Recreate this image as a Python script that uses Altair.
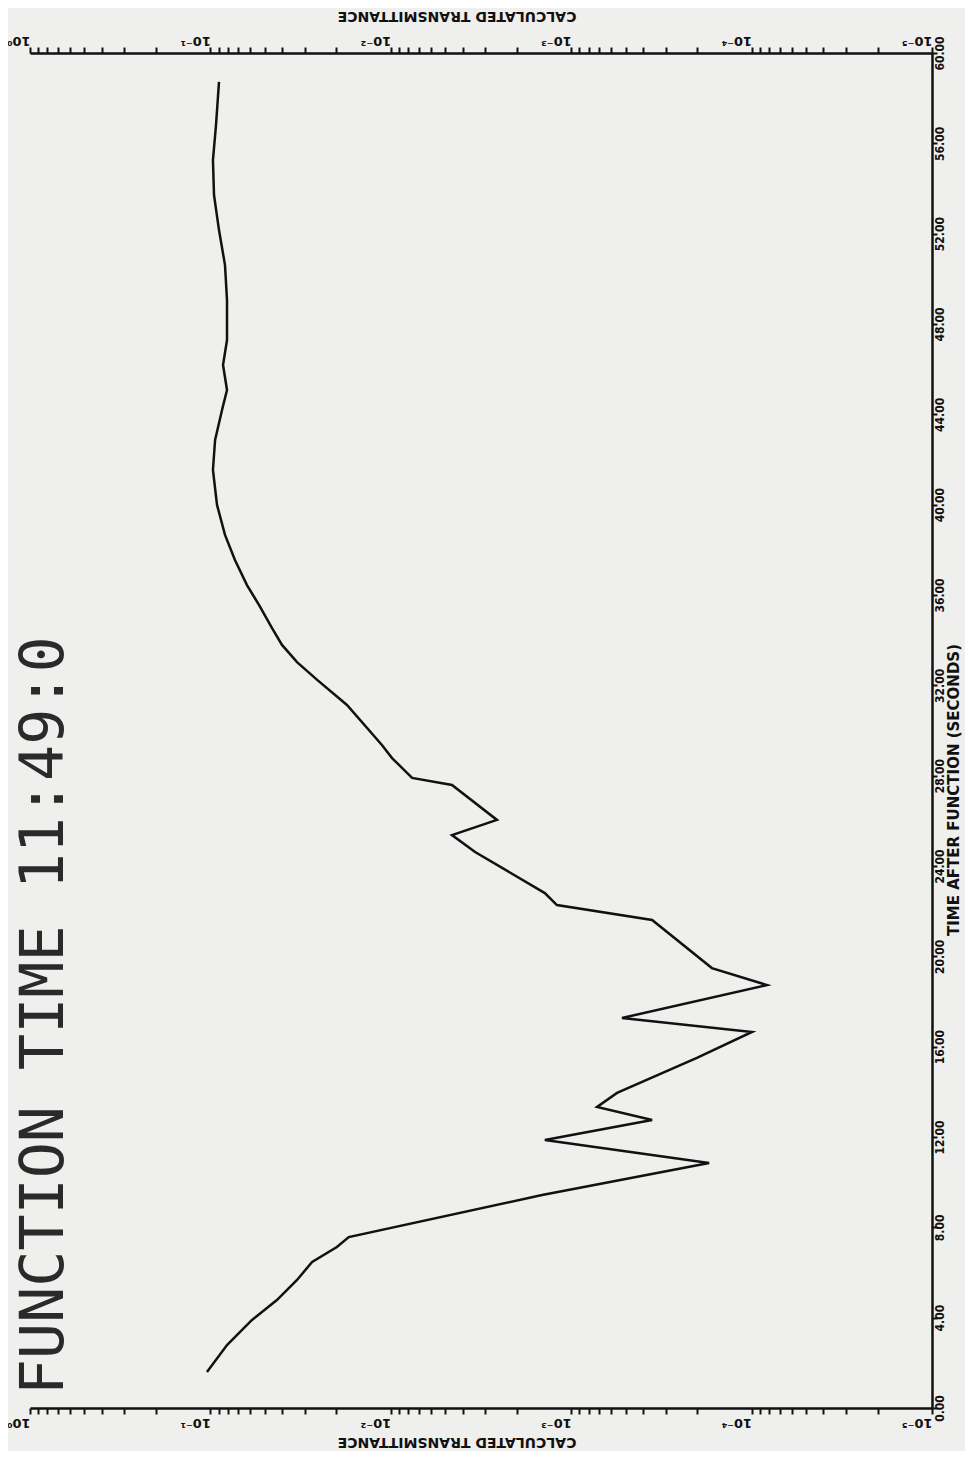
import altair as alt
import pandas as pd

# ---- data (time in seconds, transmittance) ----
time_s = [1.59, 2.79, 3.90, 4.78, 5.67, 6.47, 7.13, 7.57,
          9.43, 10.85, 11.87, 12.75, 13.33, 13.95, 15.50, 16.65,
          17.27, 18.73, 19.48, 21.61, 22.27, 22.80, 24.62, 25.37,
          26.04, 27.59, 27.90, 28.78, 29.36, 31.13, 32.24, 33.03,
          33.79, 34.54, 35.56, 36.44, 37.55, 38.66, 39.99, 41.54,
          42.86, 44.19, 45.08, 46.19, 47.29, 49.06, 50.61, 52.16,
          53.71, 55.26, 56.81, 58.72]
transmittance = [0.1045, 0.0809, 0.0588, 0.0428, 0.0331, 0.0273, 0.0199, 0.0171,
                 0.00145, 0.000172, 0.00140, 0.000356, 0.000719, 0.000557, 0.000201, 0.0000995,
                 0.000523, 0.0000822, 0.000166, 0.000356, 0.00120, 0.00140, 0.00341, 0.00458,
                 0.00258, 0.00458, 0.00762, 0.00984, 0.0112, 0.0175, 0.0256, 0.0331,
                 0.0401, 0.0456, 0.0538, 0.0627, 0.0731, 0.0830, 0.0919, 0.0968,
                 0.0942, 0.0862, 0.0809, 0.0851, 0.0809, 0.0809, 0.0830, 0.0896,
                 0.0955, 0.0968, 0.0931, 0.0896]

time_ticks = list(range(0, 61, 4))
decade_values = [1, 0.1, 0.01, 0.001, 0.0001, 0.00001]
decade_labels = ["10⁰", "10⁻¹", "10⁻²", "10⁻³", "10⁻⁴", "10⁻⁵"]
chart_title = "FUNCTION TIME 11:49:0"
trans_title = "CALCULATED TRANSMITTANCE"
time_title = "TIME AFTER FUNCTION (SECONDS)"

df = pd.DataFrame({"t": time_s, "T": transmittance})

# all log ticks (1..9 x each decade)
log_ticks = sorted(set([round(k * d, 10) for d in decade_values[1:] for k in range(1, 10)] + [1]))

lg = "(log(datum.value)/LN10)"
label_expr = f"abs({lg} - round({lg})) > 0.001 ? '' : "
for i, lab in enumerate(decade_labels):
    label_expr += f"round({lg}) == {-i} ? '{lab}' : "
label_expr += "''"

INK = "#111111"
FONT = "DejaVu Sans"

x_scale = alt.Scale(type="log", domain=[1e-5, 1], reverse=True, nice=False)
y_scale = alt.Scale(domain=[0, 60], nice=False, zero=False)


def trans_axis(orient):
    return alt.Axis(
        orient=orient, values=log_ticks, labelExpr=label_expr,
        labelAngle=180, labelAlign="left",
        labelBaseline="bottom" if orient == "bottom" else "top",
        labelPadding=1, tickSize=6, tickWidth=2, domainWidth=2.5,
        domainColor=INK, tickColor=INK, labelColor=INK,
        labelFont=FONT, labelFontWeight="bold", labelFontSize=13,
        grid=False, title=None, labelOverlap=False, labelFlush=False,
    )


time_axis = alt.Axis(
    orient="right", values=time_ticks, format=".2f",
    labelAngle=270, labelAlign="center", labelBaseline="middle",
    labelPadding=2, tickSize=5, tickWidth=2, domainWidth=2.5,
    domainColor=INK, tickColor=INK, labelColor=INK,
    labelFont="DejaVu Sans Condensed", labelFontWeight="bold", labelFontSize=12,
    grid=False, title=None, labelOverlap=False, labelFlush=False,
)

curve = alt.Chart(df).mark_line(color=INK, strokeWidth=2.5).encode(
    x=alt.X("T:Q", scale=x_scale, axis=trans_axis("bottom")),
    y=alt.Y("t:Q", scale=y_scale, axis=time_axis),
    order=alt.Order("t:Q"),
)

top_axis = alt.Chart(df).mark_line(opacity=0).encode(
    x=alt.X("T:Q", scale=x_scale, axis=trans_axis("top")),
    y=alt.Y("t:Q", scale=y_scale, axis=time_axis),
    order=alt.Order("t:Q"),
)

big_title = alt.Chart(pd.DataFrame({"label": [chart_title]})).mark_text(
    angle=270, align="left", baseline="middle", font="DejaVu Sans Mono",
    fontSize=60, color="#2a2a2a",
).encode(text="label:N", x=alt.value(15), y=alt.value(1342))

bottom_title = alt.Chart(pd.DataFrame({"label": [trans_title]})).mark_text(
    angle=180, align="center", baseline="middle", font=FONT, fontWeight="bold",
    fontSize=14, color=INK,
).encode(text="label:N", x=alt.value(427), y=alt.value(1389))

top_title = alt.Chart(pd.DataFrame({"label": [trans_title]})).mark_text(
    angle=180, align="center", baseline="middle", font=FONT, fontWeight="bold",
    fontSize=14, color=INK,
).encode(text="label:N", x=alt.value(427), y=alt.value(-37))

time_title_mark = alt.Chart(pd.DataFrame({"label": [time_title]})).mark_text(
    angle=270, align="center", baseline="middle", font=FONT, fontWeight="bold",
    fontSize=15, color=INK,
).encode(text="label:N", x=alt.value(924), y=alt.value(737))

chart = alt.layer(
    curve, top_axis, big_title, bottom_title, top_title, time_title_mark
).resolve_scale(x="independent").properties(
    width=902, height=1355,
    padding={"left": 22, "top": 45, "right": 33, "bottom": 43},
    autosize=alt.AutoSizeParams(type="none"),
    background="#efefed",
).configure_view(stroke=None)

chart.save("out.html", embed_options={"renderer": "svg", "actions": False})
